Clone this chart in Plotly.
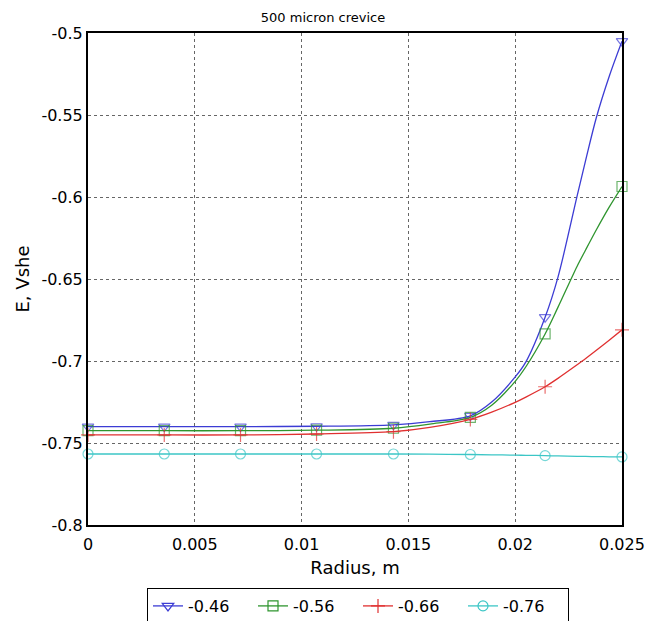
import plotly.graph_objects as go

radius = [0.0, 0.00357, 0.00714, 0.0107, 0.0143, 0.0160, 0.0179, 0.0189,
          0.0200, 0.0205, 0.0214, 0.0220, 0.0229, 0.0233, 0.0238, 0.0244, 0.0250]

e_046 = [-0.7400, -0.7400, -0.7400, -0.7398, -0.7389, -0.7370, -0.7334, -0.7250,
         -0.7097, -0.7005, -0.6733, -0.6490, -0.5993, -0.5775, -0.5515, -0.5265, -0.5050]
e_056 = [-0.7425, -0.7425, -0.7425, -0.7422, -0.7410, -0.7385, -0.7344, -0.7270,
         -0.7124, -0.7035, -0.6835, -0.6673, -0.6422, -0.6322, -0.6200, -0.6062, -0.5936]
e_066 = [-0.7451, -0.7451, -0.7451, -0.7445, -0.7431, -0.7405, -0.7356, -0.7312,
         -0.7252, -0.7220, -0.7157, -0.7106, -0.7023, -0.6985, -0.6935, -0.6873, -0.6810]
e_076 = [-0.7567, -0.7567, -0.7567, -0.7567, -0.7567, -0.7568, -0.7570, -0.7572,
         -0.7574, -0.7575, -0.7577, -0.7579, -0.7581, -0.7582, -0.7583, -0.7584, -0.7585]

# Radii carrying a marker symbol
marker_radius = [0.0, 0.00357, 0.00714, 0.0107, 0.0143, 0.0179, 0.0214, 0.0250]

series_names = ["-0.46", "-0.56", "-0.66", "-0.76"]
series_vals = [e_046, e_056, e_066, e_076]
colors = ["#3c3cd4", "#2f952f", "#e03030", "#3cc6c6"]
symbols = ["triangle-down-open", "square-open", "cross-thin-open", "circle-open"]

x_ticks = [0, 0.005, 0.01, 0.015, 0.02, 0.025]
x_ticktext = ["0", "0.005", "0.01", "0.015", "0.02", "0.025"]
y_ticks = [-0.8, -0.75, -0.7, -0.65, -0.6, -0.55, -0.5]
y_ticktext = ["-0.8", "-0.75", "-0.7", "-0.65", "-0.6", "-0.55", "-0.5"]

fig = go.Figure()
for name, vals, col, sym in zip(series_names, series_vals, colors, symbols):
    sizes = [10 if r in marker_radius else 0 for r in radius]
    fig.add_trace(go.Scatter(
        x=radius, y=vals, name=name, mode="lines+markers", showlegend=False,
        line=dict(color=col, width=1.3, shape="spline", smoothing=0.9),
        marker=dict(symbol=sym, size=sizes, color=col,
                    line=dict(color=col, width=1.2)),
        cliponaxis=False,
    ))
# legend-only entries (no data drawn) so the legend shows full-size symbols
for name, col, sym in zip(series_names, colors, symbols):
    fig.add_trace(go.Scatter(
        x=[None], y=[None], name=name, mode="lines+markers", showlegend=True,
        line=dict(color=col, width=1.3),
        marker=dict(symbol=sym, size=10, color=col, line=dict(color=col, width=1.2)),
    ))

axis_common = dict(
    showline=True, linecolor="black", linewidth=2, mirror=True,
    showgrid=True, gridcolor="#666666", griddash="dot", gridwidth=1,
    ticks="", zeroline=False,
    tickfont=dict(family="DejaVu Sans", size=16, color="black"),
)

fig.update_layout(
    width=646, height=621,
    margin=dict(l=88, r=24, t=33, b=96, autoexpand=False),
    paper_bgcolor="white", plot_bgcolor="white",
    font=dict(family="DejaVu Sans", color="black"),
    title=dict(text="500 micron crevice", x=0.5, xanchor="center",
               y=1 - 17 / 621, yanchor="middle",
               font=dict(family="DejaVu Sans", size=13, color="black")),
    xaxis=dict(range=[0, 0.025], tickvals=x_ticks, ticktext=x_ticktext,
               ticklabelstandoff=4,
               title=dict(text="Radius, m", standoff=8,
                          font=dict(family="DejaVu Sans", size=18)),
               **axis_common),
    yaxis=dict(range=[-0.8, -0.5], tickvals=y_ticks, ticktext=y_ticktext,
               title=dict(text="E, Vshe", standoff=7,
                          font=dict(family="DejaVu Sans", size=18)),
               **axis_common),
    legend=dict(orientation="h", x=358 / 646, xanchor="center", xref="container",
                y=1 - 588 / 621, yanchor="top", yref="container",
                bordercolor="black", borderwidth=1,
                entrywidth=60, entrywidthmode="pixels",
                font=dict(family="DejaVu Sans", size=16, color="black"),
                traceorder="normal"),
    showlegend=True,
)

fig.write_html("out.html",
               config={"displayModeBar": False},
               post_script="document.body.style.margin='0';"
                           "document.body.style.overflow='hidden';")
